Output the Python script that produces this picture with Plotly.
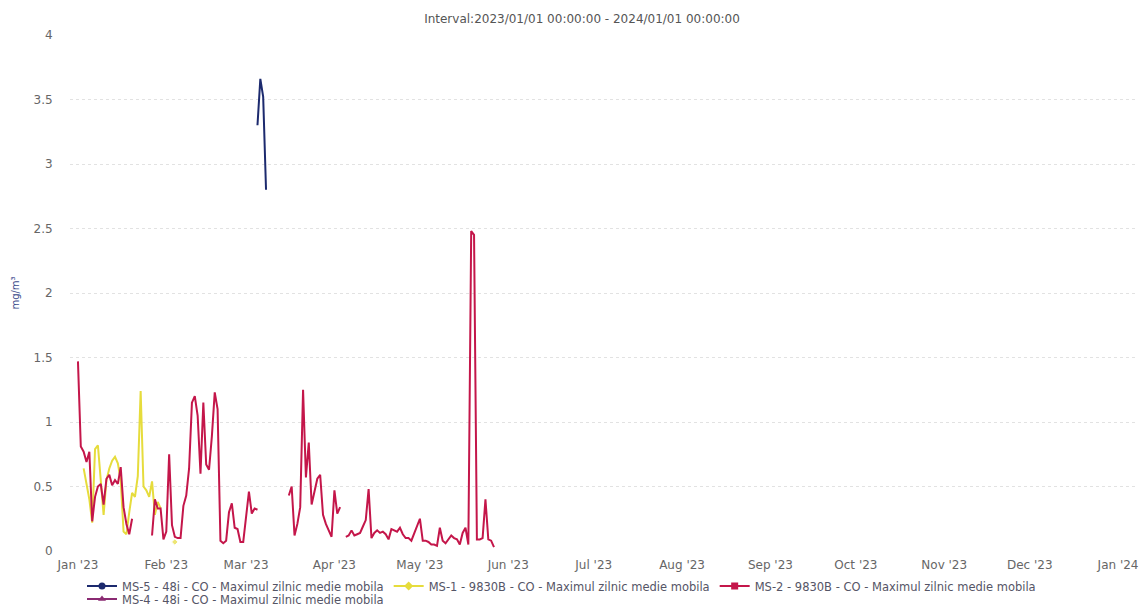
import pandas as pd
import plotly.graph_objects as go

# ---------------- data ----------------
start_date = "2023-01-01"

# MS-2 - 9830B daily maximum (day 0 = 2023-01-01), None = missing
ms2_values = (
    [1.47, 0.81, 0.77, 0.69, 0.77, 0.23, 0.42, 0.50, 0.52, 0.36,
     0.56, 0.59, 0.51, 0.55, 0.52, 0.65, 0.34, 0.21, 0.13, 0.25]
    + [None] * 6
    + [0.12, 0.40, 0.33, 0.33, 0.09, 0.15, 0.75, 0.20, 0.11, 0.10,
       0.10, 0.35, 0.43, 0.64, 1.15, 1.20, 1.05, 0.60, 1.15, 0.67,
       0.63, 0.89, 1.23, 1.10, 0.08, 0.06, 0.08, 0.30, 0.37, 0.18,
       0.17, 0.07, 0.07, 0.25, 0.46, 0.29, 0.33, 0.32]
    + [None] * 10
    + [0.43, 0.50, 0.12, 0.21, 0.34, 1.25, 0.57, 0.84, 0.36, 0.45,
       0.56, 0.59, 0.28, 0.21, 0.16, 0.11, 0.47, 0.29, 0.34]
    + [None]
    + [0.11, 0.12, 0.16, 0.12, 0.13, 0.14, 0.19, 0.24, 0.48, 0.10,
       0.14, 0.16, 0.14, 0.15, 0.13, 0.09, 0.17, 0.16, 0.15, 0.18,
       0.13, 0.10, 0.10, 0.08, 0.14, 0.19, 0.25, 0.08, 0.08, 0.07,
       0.05, 0.05, 0.04, 0.18, 0.08, 0.06, 0.09, 0.12, 0.10, 0.09,
       0.05, 0.14, 0.18, 0.05]
    + [2.48, 2.45, 0.09, 0.09, 0.10, 0.40, 0.09, 0.08, 0.03]
)

# MS-1 - 9830B daily maximum
ms1_values = [None, None, 0.64, 0.52, 0.40, 0.22, 0.79, 0.82, 0.58, 0.28,
              0.55, 0.64, 0.70, 0.73, 0.68, 0.55, 0.15, 0.13, 0.30, 0.45,
              0.42, 0.58, 1.24, 0.50, 0.47, 0.42, 0.54, 0.28, 0.38, 0.33,
              None, None, None, None, 0.07]

# MS-5 - 48i daily maximum
ms5_dates = ["2023-03-05", "2023-03-06", "2023-03-07", "2023-03-08"]
ms5_values = [3.30, 3.66, 3.52, 2.80]

# MS-4 - 48i : no data in interval
ms4_dates = []
ms4_values = []

names = {
    "ms5": "MS-5 - 48i - CO - Maximul zilnic medie mobila",
    "ms1": "MS-1 - 9830B - CO - Maximul zilnic medie mobila",
    "ms2": "MS-2 - 9830B - CO - Maximul zilnic medie mobila",
    "ms4": "MS-4 - 48i - CO - Maximul zilnic medie mobila",
}
month_ticks = pd.date_range("2023-01-01", "2024-01-01", freq="MS")
y_ticks = [0, 0.5, 1, 1.5, 2, 2.5, 3, 3.5, 4]
title_text = "Interval:2023/01/01 00:00:00 - 2024/01/01 00:00:00"

# ---------------- style ----------------
colors = {"ms5": "#1c2a6e", "ms1": "#e6dc3c", "ms2": "#c4164a", "ms4": "#8a2a72"}
symbols = {"ms5": "circle", "ms1": "diamond", "ms2": "square", "ms4": "triangle-up"}
FONT = "DejaVu Sans, Verdana, sans-serif"
W, H = 1140, 605


def iso_sizes(vals, s=5):
    out = []
    for i, v in enumerate(vals):
        prev_none = i == 0 or vals[i - 1] is None
        next_none = i == len(vals) - 1 or vals[i + 1] is None
        out.append(s if (v is not None and prev_none and next_none) else 0)
    return out


ms2_dates = pd.date_range(start_date, periods=len(ms2_values), freq="D")
ms1_dates = pd.date_range(start_date, periods=len(ms1_values), freq="D")

fig = go.Figure()

series = [
    ("ms5", pd.to_datetime(ms5_dates), ms5_values),
    ("ms1", ms1_dates, ms1_values),
    ("ms2", ms2_dates, ms2_values),
    ("ms4", pd.to_datetime(ms4_dates), ms4_values),
]

for key, xs, ys in series:
    fig.add_trace(go.Scatter(
        x=xs, y=ys, mode="lines+markers", name=names[key],
        legendgroup=key, showlegend=False, connectgaps=False,
        line=dict(color=colors[key], width=2),
        marker=dict(color=colors[key], symbol=symbols[key], size=iso_sizes(list(ys))),
    ))

for key, _, _ in series:
    fig.add_trace(go.Scatter(
        x=[None], y=[None], mode="lines+markers", name=names[key],
        legendgroup=key, showlegend=True,
        legend="legend2" if key == "ms4" else "legend",
        line=dict(color=colors[key], width=2),
        marker=dict(color=colors[key], symbol=symbols[key], size=7),
    ))

legend_common = dict(
    orientation="h", xref="container", yref="container",
    xanchor="left", yanchor="middle",
    font=dict(family=FONT, size=11.5, color="#555566"),
    bgcolor="rgba(0,0,0,0)", itemwidth=30, tracegroupgap=0,
    borderwidth=0,
)

fig.update_layout(
    width=W, height=H,
    margin=dict(l=70, r=2, t=35, b=54, autoexpand=False),
    paper_bgcolor="white", plot_bgcolor="white",
    font=dict(family=FONT, size=12, color="#666666"),
    title=dict(text=title_text, x=582 / W, xref="container", xanchor="center",
               y=1 - 19 / H, yref="container", yanchor="middle",
               font=dict(family=FONT, size=12, color="#555555")),
    showlegend=True,
    legend=dict(x=82 / W, y=1 - 586 / H, **legend_common),
    legend2=dict(x=82 / W, y=1 - 599 / H, **legend_common),
)

fig.update_xaxes(
    type="date", automargin=False,
    range=[pd.Timestamp("2023-01-01") - pd.Timedelta(hours=67),
           pd.Timestamp("2023-01-01") + pd.Timedelta(hours=24 * 372)],
    tickvals=month_ticks, tickformat="%b '%y",
    showgrid=False, zeroline=False, showline=False,
    ticks="outside", ticklen=3, tickcolor="rgba(0,0,0,0)",
    tickfont=dict(family=FONT, size=12, color="#666666"),
)
fig.update_yaxes(
    range=[0, 4], tickvals=y_ticks, automargin=False,
    showgrid=True, gridcolor="#e2e2e2", griddash="dot", gridwidth=1,
    zeroline=False, showline=False,
    ticks="outside", ticklen=14, tickcolor="rgba(0,0,0,0)",
    tickfont=dict(family=FONT, size=12, color="#666666"),
    title=dict(text="mg/m³", standoff=12, font=dict(family=FONT, size=10, color="#3a4a8a")),
)

fig.write_html("out.html")
